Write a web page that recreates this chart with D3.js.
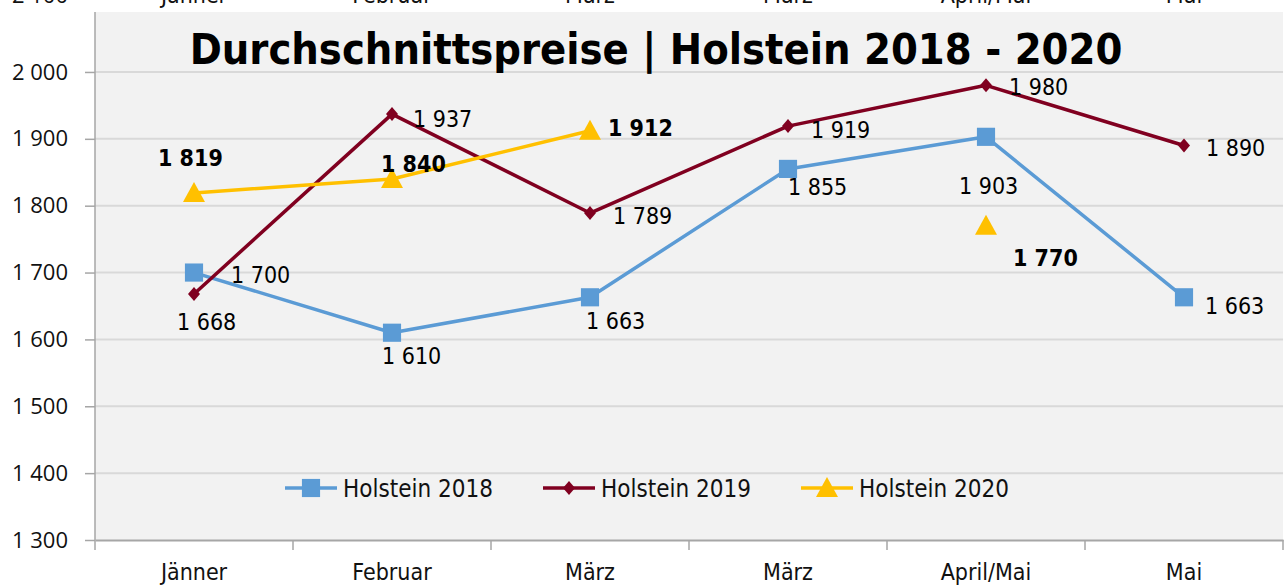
<!DOCTYPE html>
<html lang="de">
<head>
<meta charset="UTF-8" />
<title>Durchschnittspreise Holstein 2018 - 2020</title>
<script src="https://cdn.jsdelivr.net/npm/d3@7/dist/d3.min.js"></script>
<style>
  body { margin: 0; background: #fff; }
  svg { display: block; }
  .cond { font-family: "Liberation Sans Narrow", "DejaVu Sans Condensed", sans-serif; }
</style>
</head>
<body>
<svg id="chart" width="1285" height="587"></svg>
<script>
// data
const categories = ["Jänner", "Februar", "März", "März", "April/Mai", "Mai"];
const holstein2018 = [1700, 1610, 1663, 1855, 1903, 1663];
const holstein2019 = [1668, 1937, 1789, 1919, 1980, 1890];
const holstein2020 = [1819, 1840, 1912, null, 1770, null];
const yTicks = [1300, 1400, 1500, 1600, 1700, 1800, 1900, 2000, 2100];

// label offsets (px from marker)
const off2018 = [[37, 10], [-10, 31], [-4, 32], [0, 26], [-27, 57], [21, 17]];
const off2019 = [[-17, 36], [21, 13], [23, 11], [23, 12], [23, 10], [22, 10]];
const off2020 = [[-36, -27], [-11, -7], [18, 5], null, [27, 40], null];

const margin = {left: 95, right: 2, top: 5, bottom: 47};
const W = 1285, H = 587;

const svg = d3.select("#chart");
const loc = d3.formatLocale({decimal: ",", thousands: "\u2009", grouping: [3], currency: ["", "€"]});
const fmt = v => loc.format(",")(v).replace("\u2009", " ");

const x = d3.scaleBand().domain(d3.range(categories.length)).range([margin.left, W - margin.right]);
const y = d3.scaleLinear().domain([1300, 2100]).range([540, 5.1]);
const cx = i => x(i) + x.bandwidth() / 2;

// plot background
svg.append("rect")
  .attr("x", margin.left).attr("y", 12)
  .attr("width", W - margin.right - margin.left).attr("height", 540 - 12)
  .attr("fill", "#f2f2f2");

// grid
svg.append("g").selectAll("line").data(yTicks.filter(d => d > 1300 && d < 2100)).join("line")
  .attr("x1", margin.left).attr("x2", W - margin.right)
  .attr("y1", d => y(d)).attr("y2", d => y(d))
  .attr("stroke", "#d9d9d9").attr("stroke-width", 2);

// y axis
const yAxis = svg.append("g").attr("transform", `translate(${margin.left},0)`)
  .call(d3.axisLeft(y).tickValues(yTicks).tickFormat(fmt).tickSize(10).tickPadding(17));
yAxis.select(".domain").attr("stroke", "#a6a6a6").attr("stroke-width", 1.5).attr("d", `M0,12V540`);
yAxis.selectAll(".tick line").attr("stroke", "#a6a6a6").attr("stroke-width", 1.5);
yAxis.selectAll(".tick text").attr("font-family", "'Open Sans', 'Noto Sans', sans-serif")
  .attr("font-size", 22).attr("fill", "#111");
const topTick = yAxis.selectAll(".tick").filter(d => d === 2100);
topTick.select("text").attr("dy", "-0.1em");
topTick.select("line").remove();

// x axis bottom
const xAxis = svg.append("g").attr("transform", "translate(0,540)")
  .call(d3.axisBottom(x).tickFormat(i => categories[i]).tickSize(0).tickPadding(24));
xAxis.select(".domain").attr("stroke", "#a6a6a6").attr("stroke-width", 2);
xAxis.selectAll(".tick text").attr("class", "cond").attr("font-size", 23).attr("fill", "#111");
xAxis.selectAll(".sep").data(d3.range(categories.length + 1)).join("line")
  .attr("class", "sep")
  .attr("x1", i => margin.left + i * x.bandwidth()).attr("x2", i => margin.left + i * x.bandwidth())
  .attr("y1", 0).attr("y2", 10).attr("stroke", "#a6a6a6").attr("stroke-width", 1.5);

// x labels at top (cut by the frame)
svg.append("g").selectAll("text").data(categories).join("text")
  .attr("class", "cond")
  .attr("x", (d, i) => cx(i)).attr("y", 3)
  .attr("text-anchor", "middle").attr("font-size", 23).attr("fill", "#111")
  .text(d => d);

// title
svg.append("text")
  .attr("x", 656).attr("y", 64)
  .attr("text-anchor", "middle")
  .attr("font-family", "'DejaVu Sans Condensed', 'Liberation Sans Narrow', sans-serif")
  .attr("font-weight", "bold").attr("font-size", 43).attr("fill", "#000")
  .text("Durchschnittspreise | Holstein 2018 - 2020");

const series = [
  {name: "Holstein 2018", values: holstein2018, color: "#5b9bd5", marker: "square", off: off2018, bold: false},
  {name: "Holstein 2019", values: holstein2019, color: "#800020", marker: "diamond", off: off2019, bold: false},
  {name: "Holstein 2020", values: holstein2020, color: "#ffc000", marker: "triangle", off: off2020, bold: true}
];

const symbolPath = {
  square: d3.symbol(d3.symbolSquare, 330)(),
  diamond: "M0,-7L6,0L0,7L-6,0Z",
  triangle: "M0,-11L11,9L-11,9Z"
};

const line = d3.line()
  .defined(d => d.v != null)
  .x(d => cx(d.i)).y(d => y(d.v));

series.forEach(s => {
  const pts = s.values.map((v, i) => ({v, i}));
  svg.append("path").datum(pts)
    .attr("d", line)
    .attr("fill", "none").attr("stroke", s.color).attr("stroke-width", 3.5)
    .attr("stroke-linejoin", "round");
});

series.forEach(s => {
  const pts = s.values.map((v, i) => ({v, i})).filter(d => d.v != null);
  svg.append("g").selectAll("path").data(pts).join("path")
    .attr("transform", d => `translate(${cx(d.i)},${y(d.v)})`)
    .attr("d", symbolPath[s.marker]).attr("fill", s.color);
});

series.forEach(s => {
  const pts = s.values.map((v, i) => ({v, i})).filter(d => d.v != null);
  svg.append("g").selectAll("text").data(pts).join("text")
    .attr("class", "cond")
    .attr("x", d => cx(d.i) + s.off[d.i][0])
    .attr("y", d => y(d.v) + s.off[d.i][1])
    .attr("font-size", 23).attr("fill", "#000")
    .attr("font-weight", s.bold ? "bold" : "normal")
    .text(d => fmt(d.v));
});

// legend
const legendX = [285, 543, 801];
const legend = svg.append("g").selectAll("g").data(series).join("g")
  .attr("transform", (d, i) => `translate(${legendX[i]},488)`);
legend.append("line").attr("x1", 0).attr("x2", 52)
  .attr("stroke", d => d.color).attr("stroke-width", 3.5);
legend.append("path").attr("transform", "translate(26,0)")
  .attr("d", d => symbolPath[d.marker]).attr("fill", d => d.color);
legend.append("text").attr("class", "cond")
  .attr("x", 58).attr("y", 9).attr("font-size", 24).attr("fill", "#111")
  .text(d => d.name);
</script>
</body>
</html>
